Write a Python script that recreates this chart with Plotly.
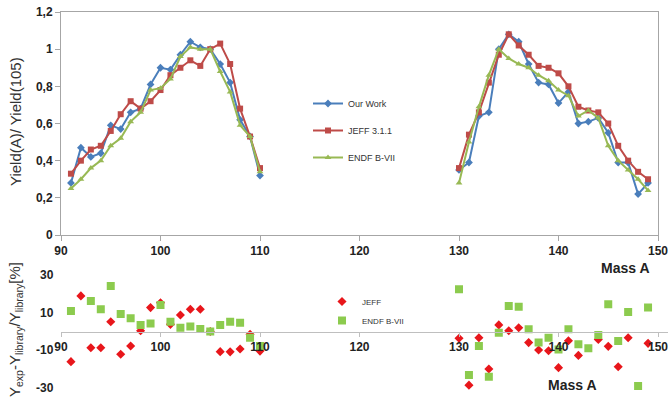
import plotly.graph_objects as go

# ---- data ----
mass_light = list(range(91, 111))
mass_heavy = list(range(130, 150))

our_work_light = [0.28, 0.47, 0.42, 0.44, 0.59, 0.57, 0.66, 0.68, 0.81, 0.90,
                  0.89, 0.97, 1.04, 1.01, 1.00, 0.92, 0.82, 0.62, 0.53, 0.32]
our_work_heavy = [0.35, 0.39, 0.64, 0.66, 1.00, 1.08, 1.04, 0.92, 0.82, 0.81,
                  0.71, 0.77, 0.60, 0.61, 0.63, 0.55, 0.39, 0.39, 0.22, 0.28]

jeff_light = [0.33, 0.40, 0.46, 0.48, 0.56, 0.65, 0.72, 0.68, 0.72, 0.78,
              0.86, 0.90, 0.94, 0.91, 1.00, 1.03, 0.92, 0.68, 0.53, 0.36]
jeff_heavy = [0.36, 0.54, 0.66, 0.82, 0.97, 1.08, 1.02, 0.97, 0.91, 0.90,
              0.87, 0.80, 0.69, 0.67, 0.66, 0.60, 0.48, 0.40, 0.34, 0.30]

endf_light = [0.25, 0.30, 0.36, 0.40, 0.48, 0.52, 0.61, 0.66, 0.78, 0.79,
              0.84, 0.96, 1.01, 1.00, 1.00, 0.88, 0.77, 0.59, 0.53, 0.34]
endf_heavy = [0.28, 0.50, 0.69, 0.86, 1.00, 0.95, 0.92, 0.90, 0.86, 0.83,
              0.78, 0.75, 0.64, 0.67, 0.63, 0.48, 0.40, 0.35, 0.30, 0.24]

dev_jeff_light = [-16.0, 18.9, -8.6, -8.6, 5.2, -12.1, -7.7, 0.4, 12.7, 15.3,
                  3.8, 8.8, 11.8, 11.8, 0.0, -10.7, -10.8, -9.3, -1.5, -10.4]
dev_jeff_heavy = [-3.6, -28.5, -3.3, -19.9, 3.5, 0.4, 2.0, -5.9, -9.8, -10.2,
                  -19.2, -4.9, -12.7, None, -4.2, -7.9, -18.7, -3.3, None, -6.3]

dev_endf_light = [10.9, None, 16.2, 11.8, 24.2, 9.3, 7.0, 3.5, 4.3, 14.1,
                  5.2, 2.0, 2.6, 1.3, 0.0, 3.5, 5.2, 4.7, -3.3, -7.7]
dev_endf_heavy = [22.4, -23.1, -7.7, -24.0, -0.6, 13.6, 13.2, 1.2, -5.9, -3.3,
                  -9.5, 1.2, -6.8, -8.9, -1.9, 14.5, -5.1, 10.4, -29.0, 12.7]

x_ticks = [90, 100, 110, 120, 130, 140, 150]
top_y_ticks = [0, 0.2, 0.4, 0.6, 0.8, 1.0, 1.2]
top_y_labels = ["0", "0,2", "0,4", "0,6", "0,8", "1", "1,2"]
bottom_y_ticks = [-30, -10, 10, 30]
bottom_y_labels = ["-30", "-10", "10", "30"]

# ---- build ----
W, H = 668, 399
def px(v):
    return v / W
def py(v):
    return 1 - v / H

mass_all = mass_light + [None] + mass_heavy
def join(a, b):
    return a + [None] + b

FONT = "Liberation Sans"
BLUE, RED, GREEN = "#4A7EBB", "#BE4B48", "#98B954"

fig = go.Figure()
for name, yl, yh, col, sym, ms in [
    ("Our Work", our_work_light, our_work_heavy, BLUE, "diamond", 6),
    ("JEFF 3.1.1", jeff_light, jeff_heavy, RED, "square", 6),
    ("ENDF B-VII", endf_light, endf_heavy, GREEN, "triangle-up", 6),
]:
    fig.add_trace(go.Scatter(
        x=mass_all, y=join(yl, yh), name=name, mode="lines+markers",
        line=dict(color=col, width=2), connectgaps=False,
        marker=dict(color=col, symbol=sym, size=ms),
        xaxis="x", yaxis="y", legend="legend", legendgroup=name))

fig.add_trace(go.Scatter(
    x=mass_all, y=join(dev_jeff_light, dev_jeff_heavy), name="JEFF",
    mode="markers", marker=dict(color="#E8161B", symbol="diamond", size=7),
    xaxis="x2", yaxis="y2", legend="legend2"))
fig.add_trace(go.Scatter(
    x=mass_all, y=join(dev_endf_light, dev_endf_heavy), name="ENDF B-VII",
    mode="markers", marker=dict(color="#8CCB4E", symbol="square", size=8),
    xaxis="x2", yaxis="y2", legend="legend2"))

tickfont = dict(family=FONT, size=12, color="#222222", weight="bold")
dom_x = [px(61), px(658)]
unit_px = (658 - 61) / 60.0
x2_max = 90 + (W - 61) / unit_px

# bottom panel: zero at 331.5 px, 1.883 px per percent
zero_px, pct_px, y2_lim = 331.5, 1.883, 33.0

annotations = [
    dict(text="Yield(A)/ Yield(105)", x=px(15), y=py(122), xref="paper", yref="paper",
         xanchor="center", yanchor="middle",
         textangle=-90, showarrow=False, font=dict(family=FONT, size=15, color="#333333")),
    dict(text="Y<sub>exp</sub>-Y<sub>library</sub>/Y<sub>library</sub>[%]",
         x=px(15), y=py(330), xref="paper", yref="paper", textangle=-90,
         xanchor="center", yanchor="middle",
         showarrow=False, font=dict(family=FONT, size=15, color="#333333")),
    dict(text="<b>Mass A</b>", x=px(625), y=py(268), xref="paper", yref="paper",
         xanchor="center", yanchor="middle",
         showarrow=False, font=dict(family=FONT, size=14, color="#222222")),
    dict(text="<b>Mass A</b>", x=px(572), y=py(385), xref="paper", yref="paper",
         xanchor="center", yanchor="middle",
         showarrow=False, font=dict(family=FONT, size=14, color="#222222")),
]
# bottom y-axis tick labels, placed on the y2 scale
for v, lab in zip(bottom_y_ticks, bottom_y_labels):
    annotations.append(dict(text="<b>%s</b>" % lab, x=px(56), y=v, xref="paper", yref="y2",
                            xanchor="right", yanchor="middle", showarrow=False,
                            font=dict(family=FONT, size=12, color="#222222")))

fig.update_layout(
    width=W, height=H, margin=dict(l=0, r=0, t=0, b=0, autoexpand=False),
    paper_bgcolor="white", plot_bgcolor="rgba(0,0,0,0)",
    font=dict(family=FONT),
    xaxis=dict(domain=dom_x, range=[90, 150], tickvals=x_ticks,
               showline=True, linecolor="#A6A6A6", linewidth=1, mirror=True,
               ticks="outside", ticklen=5, tickcolor="#A6A6A6",
               showgrid=False, zeroline=False, anchor="y", tickfont=tickfont,
               ticklabeloverflow="allow", automargin=False),
    yaxis=dict(domain=[py(235), py(12)], range=[0, 1.2], tickvals=top_y_ticks,
               ticktext=top_y_labels, showline=True, linecolor="#A6A6A6",
               mirror=True, ticks="outside", ticklen=5, tickcolor="#A6A6A6",
               showgrid=False, zeroline=False, anchor="x", tickfont=tickfont,
               ticklabeloverflow="allow", automargin=False),
    xaxis2=dict(domain=[px(61), 1.0], range=[90, x2_max], tickvals=x_ticks,
                showline=True, linecolor="#BFBFBF", linewidth=1,
                ticks="outside", ticklen=4, tickcolor="#BFBFBF",
                showgrid=False, zeroline=False, anchor="free",
                position=py(zero_px), tickfont=tickfont,
                ticklabeloverflow="allow", automargin=False),
    yaxis2=dict(domain=[py(zero_px + y2_lim * pct_px), py(zero_px - y2_lim * pct_px)],
                range=[-y2_lim, y2_lim], showticklabels=False,
                showline=False, showgrid=False,
                zeroline=False, ticks="", anchor="x2", automargin=False),
    legend=dict(x=px(308), y=py(89), xanchor="left", yanchor="top",
                bgcolor="rgba(0,0,0,0)", font=dict(family=FONT, size=9, color="#333333"),
                tracegroupgap=8, itemwidth=30),
    legend2=dict(x=px(322), y=py(287), xanchor="left", yanchor="top",
                 bgcolor="rgba(0,0,0,0)", font=dict(family=FONT, size=8, color="#333333"),
                 itemwidth=30, tracegroupgap=0),
    showlegend=True,
    annotations=annotations,
)

fig.write_html("out.html")
